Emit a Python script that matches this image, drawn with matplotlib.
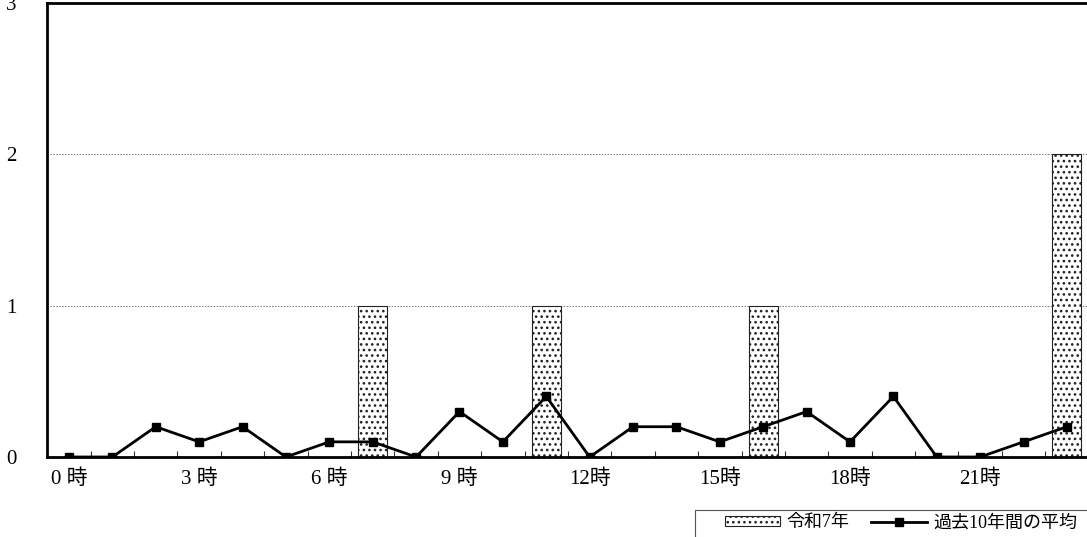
import numpy as np
import matplotlib
matplotlib.use("Agg")
import matplotlib.pyplot as plt
from matplotlib.ticker import FixedLocator
from matplotlib.patches import Rectangle

plt.rcParams['font.family'] = ['Liberation Serif', 'Noto Sans CJK JP']
plt.rcParams['hatch.linewidth'] = 1.1

hours = list(range(24))
tick_hours = [0, 3, 6, 9, 12, 15, 18, 21]
tick_labels = ["0 時", "3 時", "6 時", "9 時", "12時", "15時", "18時", "21時"]
this_year = [0, 0, 0, 0, 0, 0, 0, 1, 0, 0, 0, 1, 0, 0, 0, 0, 1, 0, 0, 0, 0, 0, 0, 2]
avg_10yr = [0, 0, 0.2, 0.1, 0.2, 0, 0.1, 0.1, 0, 0.3, 0.1, 0.4, 0, 0.2, 0.2, 0.1,
            0.2, 0.3, 0.1, 0.4, 0, 0, 0.1, 0.2]

W, H = 1087, 537
fig = plt.figure(figsize=(W / 100, H / 100), dpi=100)
ax = fig.add_axes([0.0435, 0.149, 0.958, 0.8455])

x = np.array(hours)
bars = ax.bar(x, this_year, width=0.67, color='white', edgecolor='#222222', linewidth=0.8,
              hatch='...', zorder=2, label="令和7年")
line, = ax.plot(x, avg_10yr, color='black', linewidth=2.0, marker='s', markersize=6,
                zorder=3, label="過去10年間の平均")

ax.set_xlim(-0.5, 23.5)
ax.set_ylim(0, 3)
ax.set_yticks([0, 1, 2, 3])
ax.set_yticklabels(["0", "1", "2", "3"], fontsize=15)
ax.tick_params(axis='y', length=0, pad=22)

ax.set_xticks(tick_hours)
ax.set_xticklabels(tick_labels, fontsize=15)
ax.tick_params(axis='x', which='major', length=0, pad=9)
ax.xaxis.set_minor_locator(FixedLocator(np.arange(0.5, 23, 1)))
ax.tick_params(axis='x', which='minor', direction='in', length=4, width=0.8, color='#333333')

for y in [1, 2]:
    ax.axhline(y, color='#777777', linestyle=(0, (1.5, 1.5)), linewidth=0.7, zorder=1)

for s in ['left', 'top', 'bottom', 'right']:
    ax.spines[s].set_linewidth(2.0)
    ax.spines[s].set_color('black')

# legend box drawn by hand, legend itself without frame
fig.patches.append(Rectangle((695 / W, -2 / H), 400 / W, 29 / H, transform=fig.transFigure,
                             facecolor='white', edgecolor='#555555', linewidth=0.8))
leg = fig.legend([bars, line], ["令和7年", "過去10年間の平均"], loc='center left',
                 bbox_to_anchor=(712 / W, 14 / H), bbox_transform=fig.transFigure,
                 ncol=2, frameon=False, handlelength=3.05, handleheight=0.45,
                 columnspacing=1.25, borderpad=0.2, handletextpad=0.35,
                 prop={'family': ['Liberation Serif', 'Noto Sans CJK JP'], 'size': 13})

fig.savefig("out.png", dpi=100)
